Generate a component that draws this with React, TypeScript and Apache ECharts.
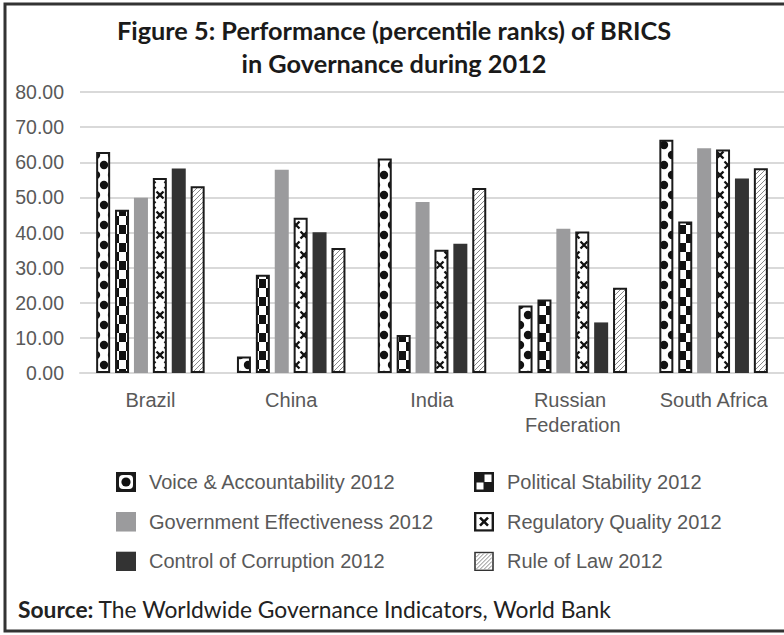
import React, { useEffect, useRef } from 'react';
import * as echarts from 'echarts';

const categories = ['Brazil', 'China', 'India', 'Russian Federation', 'South Africa'];
const seriesNames = [
  'Voice & Accountability 2012',
  'Political Stability 2012',
  'Government Effectiveness 2012',
  'Regulatory Quality 2012',
  'Control of Corruption 2012',
  'Rule of Law 2012',
];
const voice = [62.9, 4.7, 61.1, 19.2, 66.4];
const political = [46.5, 28.0, 10.8, 20.9, 43.1];
const effectiveness = [49.9, 57.9, 48.7, 41.1, 64.0];
const regulatory = [55.5, 44.2, 35.1, 40.3, 63.6];
const corruption = [58.2, 40.1, 36.8, 14.4, 55.4];
const ruleOfLaw = [53.2, 35.6, 52.7, 24.3, 58.3];
const yMin = 0;
const yMax = 80;
const yStep = 10;
const titleLines = ['Figure 5: Performance (percentile ranks) of BRICS', 'in Governance during 2012'];
const sourceLabel = 'Source:';
const sourceText = 'The Worldwide Governance Indicators, World Bank';

const svgUrl = (s: string) => 'data:image/svg+xml;charset=utf-8,' + encodeURIComponent(s);
const NS = "xmlns='http://www.w3.org/2000/svg'";

const dotsTile = svgUrl(
  `<svg ${NS} width='16' height='20'><rect width='16' height='20' fill='#fff'/><circle cx='8' cy='5' r='4.2' fill='#111'/><circle cx='0' cy='15' r='4.2' fill='#111'/><circle cx='16' cy='15' r='4.2' fill='#111'/></svg>`
);
const checkTile = svgUrl(
  `<svg ${NS} width='14' height='18'><rect width='14' height='18' fill='#fff'/><rect x='0' y='0' width='7' height='9' fill='#111'/><rect x='7' y='9' width='7' height='9' fill='#111'/></svg>`
);
const crossTile = svgUrl(
  `<svg ${NS} width='16' height='20'><rect width='16' height='20' fill='#fff'/><path d='M4.5,1.5 L11.5,8.5 M11.5,1.5 L4.5,8.5 M-3.5,11.5 L3.5,18.5 M3.5,11.5 L-3.5,18.5 M12.5,11.5 L19.5,18.5 M19.5,11.5 L12.5,18.5' stroke='#111' stroke-width='2.3' fill='none'/></svg>`
);
const hatchTile = svgUrl(
  `<svg ${NS} width='5' height='5'><rect width='5' height='5' fill='#fff'/><path d='M0,5 L5,0 M-1,1 L1,-1 M4,6 L6,4' stroke='#8a8a8a' stroke-width='1' fill='none'/></svg>`
);

const pat = (image: string, w: number, h: number) => ({ image, repeat: 'repeat', imageWidth: w, imageHeight: h });

const iconWrap = (inner: string) =>
  'image://' + svgUrl(`<svg ${NS} width='28' height='20' viewBox='0 0 28 20' preserveAspectRatio='none'>${inner}</svg>`);

const icons = [
  iconWrap(`<rect width='20' height='20' fill='#1a1a1a'/><rect x='3' y='3' width='14' height='14' rx='4' fill='#fff'/><circle cx='10' cy='10' r='4.6' fill='#111'/>`),
  iconWrap(`<rect width='20' height='20' fill='#1a1a1a'/><rect x='10.5' y='2.5' width='7' height='7.5' fill='#fff'/><rect x='2.5' y='10.5' width='7' height='7' fill='#fff'/>`),
  iconWrap(`<rect width='20' height='20' fill='#9b9b9d'/>`),
  iconWrap(`<rect x='1.2' y='1.2' width='17.6' height='17.6' fill='#fff' stroke='#1a1a1a' stroke-width='2.4'/><path d='M6,6 L14,14 M14,6 L6,14' stroke='#111' stroke-width='2.6'/>`),
  iconWrap(`<rect width='20' height='20' fill='#333333'/>`),
  iconWrap(`<rect x='1' y='1' width='18' height='18' fill='#fff' stroke='#333' stroke-width='1.6'/><path d='M2,6 L6,2 M2,10 L10,2 M2,14 L14,2 M2,18 L18,2 M6,18 L18,6 M10,18 L18,10 M14,18 L18,14' stroke='#888' stroke-width='1'/>`),
];

const values = [voice, political, effectiveness, regulatory, corruption, ruleOfLaw];
const fills: any[] = [
  pat(dotsTile, 16, 20),
  pat(checkTile, 14, 18),
  '#9b9b9d',
  pat(crossTile, 16, 20),
  '#333333',
  pat(hatchTile, 5, 5),
];
const bordered = [true, true, false, true, false, true];

export default function App() {
  const ref = useRef<HTMLDivElement>(null);
  useEffect(() => {
    document.body.style.margin = '0';
    const chart = echarts.init(ref.current!, null, { renderer: 'svg' });
    const axisFont = 'Liberation Sans, Arial, sans-serif';
    const legendCommon = {
      orient: 'vertical',
      top: 472,
      itemWidth: 28,
      itemHeight: 20,
      itemGap: 19.7,
      selectedMode: false,
      padding: 0,
      textStyle: { color: '#595959', fontSize: 20, fontFamily: axisFont, lineHeight: 20 },
    };
    chart.setOption({
      animation: false,
      backgroundColor: '#fff',
      grid: { left: 80, top: 92, width: 707, height: 281, containLabel: false },
      xAxis: {
        type: 'category',
        data: categories,
        axisTick: { show: false },
        axisLine: { lineStyle: { color: '#d9d9d9', width: 2 } },
        axisLabel: {
          color: '#595959',
          fontSize: 20,
          fontFamily: axisFont,
          margin: 14,
          width: 130,
          overflow: 'break',
          lineHeight: 25,
          interval: 0,
        },
      },
      yAxis: {
        type: 'value',
        min: yMin,
        max: yMax,
        interval: yStep,
        axisLine: { show: false },
        axisTick: { show: false },
        splitLine: { lineStyle: { color: '#d9d9d9', width: 2 } },
        axisLabel: {
          color: '#595959',
          fontSize: 19.5,
          fontFamily: axisFont,
          margin: 16,
          formatter: (v: number) => v.toFixed(2),
        },
      },
      legend: [
        { ...legendCommon, left: 116, data: [0, 2, 4].map((i) => ({ name: seriesNames[i], icon: icons[i] })) },
        { ...legendCommon, left: 474, data: [1, 3, 5].map((i) => ({ name: seriesNames[i], icon: icons[i] })) },
      ],
      series: seriesNames.map((name, i) => ({
        name,
        type: 'bar',
        data: values[i],
        barWidth: 14,
        barGap: '35%',
        itemStyle: {
          color: fills[i],
          borderColor: bordered[i] ? '#1a1a1a' : 'transparent',
          borderWidth: bordered[i] ? 2 : 0,
        },
      })),
      graphic: [
        {
          type: 'rect',
          z: -1,
          shape: { x: 5, y: 4, width: 800, height: 627 },
          style: { fill: 'none', stroke: '#333', lineWidth: 3 },
          silent: true,
        },
        ...titleLines.map((t, i) => ({
          type: 'text',
          x: 394,
          y: 30 + i * 33,
          style: {
            text: t,
            fontFamily: 'Lato, sans-serif',
            fontWeight: 'bold',
            fontSize: 25.3,
            fill: '#1a1a1a',
            align: 'center',
            verticalAlign: 'middle',
          },
        })),
        {
          type: 'text',
          x: 18,
          y: 609,
          style: {
            text: `{b|${sourceLabel}} ${sourceText}`,
            fontFamily: 'Lato, sans-serif',
            fontSize: 22.8,
            fill: '#222',
            verticalAlign: 'middle',
            rich: {
              b: { fontFamily: 'Lato, sans-serif', fontSize: 22.8, fontWeight: 'bold', fill: '#222', color: '#222' },
            },
          },
        },
      ],
    });
    return () => chart.dispose();
  }, []);
  return <div ref={ref} style={{ width: 784, height: 635 }} />;
}
